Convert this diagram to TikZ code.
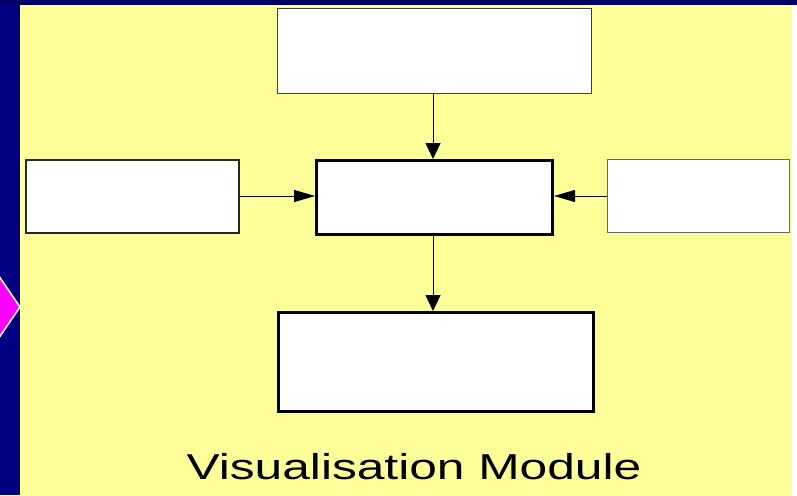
\documentclass[tikz,border=0pt]{standalone}
\usepackage{fontspec}
\setmainfont{Liberation Sans}
\usetikzlibrary{arrows.meta}
\definecolor{navy}{HTML}{000080}
\definecolor{navydark}{HTML}{000066}
\definecolor{paneyellow}{HTML}{FFFF99}
\definecolor{magentaarrow}{HTML}{FF00FF}
\tikzset{
  box/.style={draw=black, fill=white, line width=1pt, inner sep=0pt},
  thinbox/.style={box, draw=black!75, line width=1.2pt},
  thickbox/.style={box, line width=3pt},
  vlink/.style={draw=black, line width=0.9pt, -{Triangle[length=16pt,width=15pt]}},
  hlink/.style={draw=black, line width=0.9pt, -{Triangle[length=21pt,width=12pt]}},
}
\begin{document}
\begin{tikzpicture}[x=1pt,y=-1pt]
\useasboundingbox (0,0) rectangle (797,495);
\fill[white] (0,0) rectangle (797,495);
\fill[navy] (0,0) rectangle (797,495);
\fill[navydark] (0,0) rectangle (797,5);
\fill[white] (792,5) rectangle (797,495);
\fill[paneyellow] (20,5) rectangle (792,495);
% magenta pointer on the left edge
\filldraw[fill=magentaarrow, draw=white, line width=1.5pt] (-10,263) -- (20,307) -- (-10,351) -- cycle;
% boxes
\node[thinbox, minimum width=314pt, minimum height=85pt, anchor=north west] (top) at (277,8) {};
\node[box, line width=2pt, draw=black!85, minimum width=213pt, minimum height=73pt, anchor=north west] (left) at (25,159) {};
\node[thickbox, minimum width=236pt, minimum height=74pt, anchor=north west] (center) at (315,159) {};
\node[thinbox, draw=black!60, minimum width=182pt, minimum height=73pt, anchor=north west] (right) at (607,159) {};
\node[thickbox, minimum width=315pt, minimum height=99pt, anchor=north west] (bottom) at (277,311) {};
% connectors
\draw[vlink] (top.south -| 433,0) -- (center.north -| 433,0);
\draw[vlink] (center.south -| 433,0) -- (bottom.north -| 433,0);
\draw[hlink] (left.east |- 0,196) -- (center.west |- 0,196);
\draw[hlink] (right.west |- 0,196) -- (center.east |- 0,196);
% caption
\node[anchor=base, inner sep=0pt] (caption) at (414,479) {\fontsize{36}{40}\selectfont\scalebox{1.38}[1]{Visualisation Module}};
\end{tikzpicture}
\end{document}
